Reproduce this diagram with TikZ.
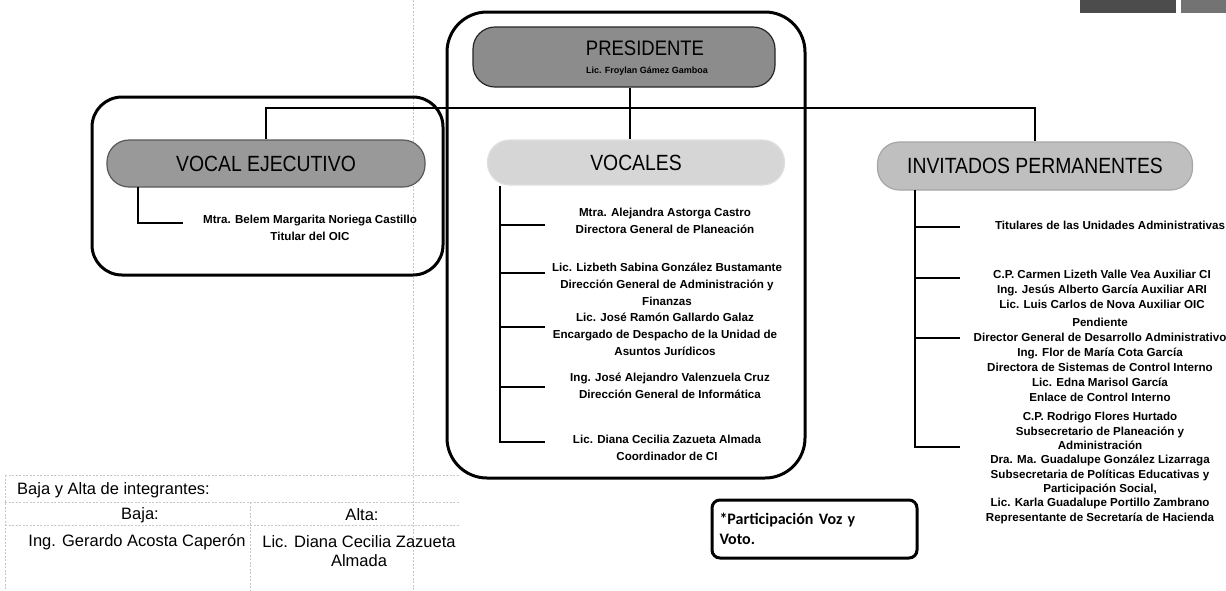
\documentclass[tikz,border=0pt]{standalone}
\usepackage{fontspec}
\setmainfont{Liberation Sans}
\newfontfamily\headfont[FakeStretch=0.88]{Liberation Sans}
\newfontfamily\notefont{Carlito}

\begin{document}
\begin{tikzpicture}[x=1pt,y=-1pt,
	pill/.style={rounded corners=22pt,inner sep=0pt,line width=1.2pt,font=\headfont\fontsize{22}{22}\selectfont},
	conn/.style={line width=2.8pt},
	outerbox/.style={line width=3pt,rounded corners=#1},
	names/.style={font=\fontsize{11.6}{17}\selectfont\bfseries,align=center,inner sep=0pt},
	guests/.style={font=\fontsize{11.6}{15}\selectfont\bfseries,align=center,inner sep=0pt},
	faint/.style={black!22,line width=0.6pt,dash pattern=on 2pt off 1.5pt},
	tabtext/.style={font=\fontsize{16.5}{19}\selectfont,inner sep=0pt}]
	\useasboundingbox (0,0) rectangle (1226,590);

	% faint guides of the scanned page
	\draw[faint] (413,0) -- (413,590);
	\draw[faint] (5,475) -- (460,475) (5,502) -- (460,502) (5,525) -- (460,525);
	\draw[faint] (5,475) -- (5,590) (250,502) -- (250,590);

	% buttons cut off at the top
	\fill[black!70] (1080,-2) rectangle (1176,13);
	\fill[black!55] (1181,-2) rectangle (1226,13);

	% frames
	\draw[outerbox=40pt] (447,12) rectangle (805,478);
	\draw[outerbox=30pt] (92,97) rectangle (443,275);

	% heads
	\node[pill,draw=black!85,fill=black!45,minimum width=302pt,minimum height=60pt] (pres) at (624,57) {};
	\node[font=\headfont\fontsize{21}{21}\selectfont,inner sep=0pt] (prestitle) at (645,48) {PRESIDENTE};
	\node[font=\fontsize{9}{9}\selectfont\bfseries,inner sep=0pt] (presname) at (647,71) {Lic. Froylan Gámez Gamboa};
	\node[pill,draw=black!65,fill=black!40,minimum width=318pt,minimum height=47pt] (vocal) at (266,163.5) {VOCAL EJECUTIVO};
	\node[pill,draw=black!12,fill=black!16,minimum width=297pt,minimum height=45pt] (vocales) at (636,162.5) {VOCALES};
	\node[pill,draw=black!35,fill=black!25,minimum width=315pt,minimum height=48pt] (invit) at (1035,166) {INVITADOS PERMANENTES};

	\coordinate (hub) at (630,108);
	\draw[conn] (hub |- pres.south) -- (hub |- vocales.north);
	\draw[conn] (vocal.north) |- (invit.north |- hub) -- (invit.north);

	% vocal ejecutivo
	\node[names] (ve1) at (310,227.5) {Mtra. Belem Margarita Noriega Castillo\\Titular del OIC};
	\coordinate (vetop) at (138,187);
	\coordinate (ve) at (183,223);
	\draw[conn] (vetop) |- (ve);

	% vocales
	\node[names] (v1) at (665,221) {Mtra. Alejandra Astorga Castro\\Directora General de Planeación};
	\node[names] (v2) at (667,284) {Lic. Lizbeth Sabina González Bustamante\\Dirección General de Administración y\\Finanzas};
	\node[names] (v3) at (665,334) {Lic. José Ramón Gallardo Galaz\\Encargado de Despacho de la Unidad de\\Asuntos Jurídicos};
	\node[names] (v4) at (670,386) {Ing. José Alejandro Valenzuela Cruz\\Dirección General de Informática};
	\node[names] (v5) at (667,448) {Lic. Diana Cecilia Zazueta Almada\\Coordinador de CI};
	\coordinate (vtop) at (500,186);
	\foreach \y [count=\i] in {225,273,327,387,442}
		\coordinate (vs\i) at (545,\y);
	\draw[conn] (vtop) |- (vs5);
	\foreach \i in {1,...,4}
		\draw[conn] (vtop |- vs\i) -- (vs\i);

	% invitados permanentes
	\node[guests] (g1) at (1110,225) {Titulares de las Unidades Administrativas};
	\node[guests] (g2) at (1102,289) {C.P. Carmen Lizeth Valle Vea Auxiliar CI\\Ing. Jesús Alberto García Auxiliar ARI\\Lic. Luis Carlos de Nova Auxiliar OIC};
	\node[guests] (g3) at (1100,360) {Pendiente\\Director General de Desarrollo Administrativo\\Ing. Flor de María Cota García\\Directora de Sistemas de Control Interno\\Lic. Edna Marisol García\\Enlace de Control Interno};
	\node[guests,font=\fontsize{11.6}{14.3}\selectfont\bfseries] (g4) at (1100,468) {C.P. Rodrigo Flores Hurtado\\Subsecretario de Planeación y\\Administración\\Dra. Ma. Guadalupe González Lizarraga\\Subsecretaria de Políticas Educativas y\\Participación Social,\\Lic. Karla Guadalupe Portillo Zambrano\\Representante de Secretaría de Hacienda};
	\coordinate (itop) at (915,190);
	\foreach \y [count=\i] in {227,278,338,447}
		\coordinate (is\i) at (960,\y);
	\draw[conn] (itop) |- (is4);
	\foreach \i in {1,2,3}
		\draw[conn] (itop |- is\i) -- (is\i);

	% bajas y altas
	\node[tabtext,anchor=west] (tabhead) at (17,490) {Baja y Alta de integrantes:};
	\node[tabtext] (baja) at (140,515) {Baja:};
	\node[tabtext] (alta) at (362,515) {Alta:};
	\node[tabtext] (bajaname) at (137,542) {Ing. Gerardo Acosta Caperón};
	\node[tabtext,align=center] (altaname) at (359,551) {Lic. Diana Cecilia Zazueta\\Almada};

	% nota
	\node[draw,line width=3pt,rounded corners=8pt,minimum width=205pt,minimum height=58pt,text width=190pt,align=left,
		font=\notefont\fontsize{16}{20}\selectfont\bfseries] (nota) at (814.5,529) {*Participación Voz y\\Voto.};
\end{tikzpicture}
\end{document}
